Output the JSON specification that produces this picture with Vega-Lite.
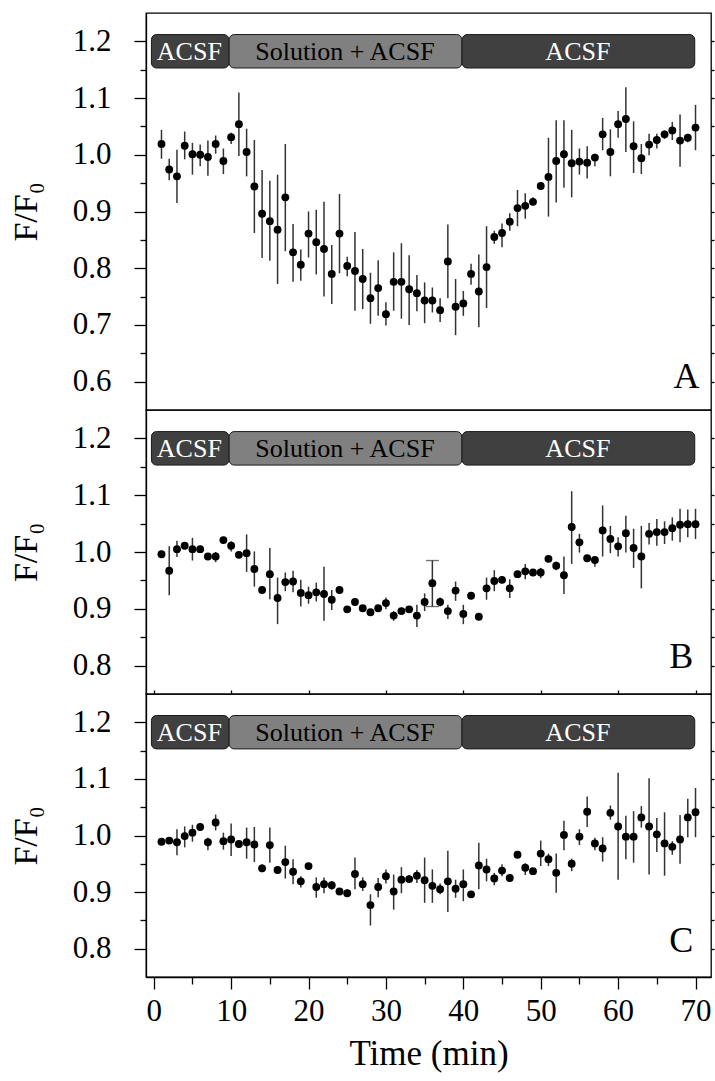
{
  "$schema": "https://vega.github.io/schema/vega-lite/v6.json",
  "background": "white",
  "padding": {"left": 8, "top": 12, "right": 3, "bottom": 5},
  "spacing": 0,
  "bounds": "flush",
  "config": {
    "view": {"stroke": "black", "strokeWidth": 1.3},
    "font": "Times New Roman, Liberation Serif, DejaVu Serif, serif",
    "text": {"font": "Times New Roman, Liberation Serif, DejaVu Serif, serif"},
    "axis": {"grid": false, "domainColor": "black", "tickColor": "black", "labelColor": "black", "titleColor": "black", "labelFont": "Times New Roman, Liberation Serif, DejaVu Serif, serif", "titleFont": "Times New Roman, Liberation Serif, DejaVu Serif, serif", "titleFontWeight": "normal", "domainWidth": 1.3, "tickWidth": 1.3}
  },
  "datasets": {
    "panels": [{"panel": "A"}, {"panel": "B"}, {"panel": "C"}],
    "prot": [
      {"label": "ACSF", "start": -0.3, "end": 9.7, "mid": 4.6},
      {"label": "Solution + ACSF", "start": 9.75, "end": 39.8, "mid": 24.7},
      {"label": "ACSF", "start": 39.85, "end": 69.9, "mid": 54.8}
    ],
    "A": [
      {"t":1,"m":1.019,"lo":0.993,"hi":1.044},{"t":2,"m":0.974,"lo":0.955,"hi":0.993},{"t":3,"m":0.962,"lo":0.915,"hi":1.009},{"t":4,"m":1.016,"lo":0.992,"hi":1.041},{"t":5,"m":1.001,"lo":0.965,"hi":1.021},{"t":6,"m":1.000,"lo":0.980,"hi":1.018},{"t":7,"m":0.996,"lo":0.963,"hi":1.025},{"t":8,"m":1.019,"lo":1.002,"hi":1.034},{"t":9,"m":0.989,"lo":0.966,"hi":1.011},{"t":10,"m":1.031,"lo":1.019,"hi":1.039},
      {"t":11,"m":1.054,"lo":0.998,"hi":1.110},{"t":12,"m":1.005,"lo":0.962,"hi":1.046},{"t":13,"m":0.944,"lo":0.862,"hi":1.026},{"t":14,"m":0.896,"lo":0.818,"hi":0.973},{"t":15,"m":0.883,"lo":0.813,"hi":0.954},{"t":16,"m":0.868,"lo":0.772,"hi":0.965},{"t":17,"m":0.925,"lo":0.830,"hi":1.019},{"t":18,"m":0.828,"lo":0.776,"hi":0.878},{"t":19,"m":0.806,"lo":0.778,"hi":0.833},{"t":20,"m":0.861,"lo":0.819,"hi":0.900},
      {"t":21,"m":0.846,"lo":0.789,"hi":0.903},{"t":22,"m":0.834,"lo":0.750,"hi":0.917},{"t":23,"m":0.790,"lo":0.737,"hi":0.841},{"t":24,"m":0.861,"lo":0.791,"hi":0.931},{"t":25,"m":0.804,"lo":0.786,"hi":0.820},{"t":26,"m":0.795,"lo":0.725,"hi":0.864},{"t":27,"m":0.781,"lo":0.728,"hi":0.834},{"t":28,"m":0.747,"lo":0.702,"hi":0.792},{"t":29,"m":0.765,"lo":0.716,"hi":0.814},{"t":30,"m":0.719,"lo":0.699,"hi":0.740},
      {"t":31,"m":0.776,"lo":0.725,"hi":0.828},{"t":32,"m":0.776,"lo":0.711,"hi":0.844},{"t":33,"m":0.763,"lo":0.700,"hi":0.823},{"t":34,"m":0.756,"lo":0.724,"hi":0.788},{"t":35,"m":0.743,"lo":0.703,"hi":0.775},{"t":36,"m":0.743,"lo":0.722,"hi":0.766},{"t":37,"m":0.726,"lo":0.705,"hi":0.747},{"t":38,"m":0.812,"lo":0.747,"hi":0.877},{"t":39,"m":0.732,"lo":0.682,"hi":0.781},{"t":40,"m":0.738,"lo":0.716,"hi":0.760},
      {"t":41,"m":0.790,"lo":0.771,"hi":0.808},{"t":42,"m":0.759,"lo":0.696,"hi":0.824},{"t":43,"m":0.802,"lo":0.730,"hi":0.874},{"t":44,"m":0.855,"lo":0.843,"hi":0.866},{"t":45,"m":0.862,"lo":0.837,"hi":0.879},{"t":46,"m":0.882,"lo":0.866,"hi":0.897},{"t":47,"m":0.906,"lo":0.874,"hi":0.938},{"t":48,"m":0.910,"lo":0.887,"hi":0.932},{"t":49,"m":0.917,"lo":0.911,"hi":0.925},{"t":50,"m":0.945,"lo":0.940,"hi":0.952},
      {"t":51,"m":0.961,"lo":0.891,"hi":1.030},{"t":52,"m":0.989,"lo":0.916,"hi":1.061},{"t":53,"m":1.001,"lo":0.942,"hi":1.061},{"t":54,"m":0.985,"lo":0.925,"hi":1.044},{"t":55,"m":0.988,"lo":0.965,"hi":1.011},{"t":56,"m":0.986,"lo":0.958,"hi":1.015},{"t":57,"m":0.995,"lo":0.980,"hi":1.002},{"t":58,"m":1.036,"lo":1.008,"hi":1.065},{"t":59,"m":1.005,"lo":0.962,"hi":1.045},{"t":60,"m":1.054,"lo":1.030,"hi":1.077},
      {"t":61,"m":1.063,"lo":1.005,"hi":1.119},{"t":62,"m":1.015,"lo":0.968,"hi":1.059},{"t":63,"m":0.994,"lo":0.966,"hi":1.019},{"t":64,"m":1.018,"lo":0.999,"hi":1.037},{"t":65,"m":1.026,"lo":1.011,"hi":1.037},{"t":66,"m":1.036,"lo":1.028,"hi":1.043},{"t":67,"m":1.043,"lo":1.026,"hi":1.058},{"t":68,"m":1.025,"lo":0.979,"hi":1.071},{"t":69,"m":1.030,"lo":1.022,"hi":1.037},{"t":70,"m":1.048,"lo":1.008,"hi":1.088}
    ],
    "B": [
      {"t":1,"m":0.996,"lo":0.990,"hi":1.002},{"t":2,"m":0.967,"lo":0.924,"hi":1.010},{"t":3,"m":1.005,"lo":0.991,"hi":1.020},{"t":4,"m":1.011,"lo":1.005,"hi":1.017},{"t":5,"m":1.005,"lo":0.985,"hi":1.025},{"t":6,"m":1.005,"lo":0.999,"hi":1.011},{"t":7,"m":0.992,"lo":0.986,"hi":0.998},{"t":8,"m":0.992,"lo":0.982,"hi":1.000},{"t":9,"m":1.021,"lo":1.014,"hi":1.026},{"t":10,"m":1.011,"lo":1.001,"hi":1.019},
      {"t":11,"m":0.995,"lo":0.989,"hi":1.001},{"t":12,"m":0.998,"lo":0.965,"hi":1.031},{"t":13,"m":0.970,"lo":0.939,"hi":1.001},{"t":14,"m":0.933,"lo":0.927,"hi":0.939},{"t":15,"m":0.961,"lo":0.917,"hi":1.007},{"t":16,"m":0.919,"lo":0.873,"hi":0.955},{"t":17,"m":0.947,"lo":0.931,"hi":0.964},{"t":18,"m":0.948,"lo":0.929,"hi":0.967},{"t":19,"m":0.928,"lo":0.904,"hi":0.951},{"t":20,"m":0.924,"lo":0.909,"hi":0.939},
      {"t":21,"m":0.929,"lo":0.913,"hi":0.946},{"t":22,"m":0.926,"lo":0.879,"hi":0.974},{"t":23,"m":0.916,"lo":0.898,"hi":0.933},{"t":24,"m":0.933,"lo":0.927,"hi":0.938},{"t":25,"m":0.899,"lo":0.895,"hi":0.903},{"t":26,"m":0.912,"lo":0.906,"hi":0.918},{"t":27,"m":0.901,"lo":0.897,"hi":0.905},{"t":28,"m":0.894,"lo":0.890,"hi":0.898},{"t":29,"m":0.901,"lo":0.897,"hi":0.906},{"t":30,"m":0.910,"lo":0.899,"hi":0.920},
      {"t":31,"m":0.888,"lo":0.879,"hi":0.896},{"t":32,"m":0.896,"lo":0.890,"hi":0.902},{"t":33,"m":0.899,"lo":0.893,"hi":0.905},{"t":34,"m":0.888,"lo":0.868,"hi":0.907},{"t":35,"m":0.912,"lo":0.896,"hi":0.927},{"t":36,"m":0.945,"lo":0.904,"hi":0.985},{"t":37,"m":0.912,"lo":0.904,"hi":0.920},{"t":38,"m":0.896,"lo":0.882,"hi":0.907},{"t":39,"m":0.932,"lo":0.914,"hi":0.948},{"t":40,"m":0.891,"lo":0.873,"hi":0.907},
      {"t":41,"m":0.923,"lo":0.917,"hi":0.929},{"t":42,"m":0.886,"lo":0.880,"hi":0.892},{"t":43,"m":0.936,"lo":0.916,"hi":0.955},{"t":44,"m":0.949,"lo":0.931,"hi":0.968},{"t":45,"m":0.951,"lo":0.945,"hi":0.957},{"t":46,"m":0.936,"lo":0.919,"hi":0.952},{"t":47,"m":0.961,"lo":0.955,"hi":0.967},{"t":48,"m":0.966,"lo":0.952,"hi":0.979},{"t":49,"m":0.964,"lo":0.959,"hi":0.969},{"t":50,"m":0.964,"lo":0.954,"hi":0.972},
      {"t":51,"m":0.988,"lo":0.982,"hi":0.994},{"t":52,"m":0.976,"lo":0.968,"hi":0.983},{"t":53,"m":0.959,"lo":0.926,"hi":0.992},{"t":54,"m":1.044,"lo":0.979,"hi":1.107},{"t":55,"m":1.017,"lo":0.999,"hi":1.032},{"t":56,"m":0.989,"lo":0.983,"hi":0.995},{"t":57,"m":0.986,"lo":0.974,"hi":0.992},{"t":58,"m":1.038,"lo":0.992,"hi":1.082},{"t":59,"m":1.023,"lo":0.998,"hi":1.046},{"t":60,"m":1.010,"lo":0.992,"hi":1.026},
      {"t":61,"m":1.033,"lo":0.999,"hi":1.064},{"t":62,"m":1.007,"lo":0.972,"hi":1.041},{"t":63,"m":0.992,"lo":0.936,"hi":1.046},{"t":64,"m":1.032,"lo":1.013,"hi":1.051},{"t":65,"m":1.035,"lo":1.011,"hi":1.058},{"t":66,"m":1.035,"lo":1.014,"hi":1.054},{"t":67,"m":1.042,"lo":1.020,"hi":1.061},{"t":68,"m":1.048,"lo":1.017,"hi":1.076},{"t":69,"m":1.049,"lo":1.026,"hi":1.075},{"t":70,"m":1.049,"lo":1.023,"hi":1.076}
    ],
    "C": [
      {"t":1,"m":0.989,"lo":0.985,"hi":0.993},{"t":2,"m":0.991,"lo":0.987,"hi":0.995},{"t":3,"m":0.988,"lo":0.965,"hi":1.011},{"t":4,"m":0.999,"lo":0.979,"hi":1.016},{"t":5,"m":1.005,"lo":0.989,"hi":1.019},{"t":6,"m":1.015,"lo":1.008,"hi":1.022},{"t":7,"m":0.988,"lo":0.974,"hi":0.996},{"t":8,"m":1.023,"lo":1.009,"hi":1.037},{"t":9,"m":0.990,"lo":0.975,"hi":1.005},{"t":10,"m":0.993,"lo":0.964,"hi":1.021},
      {"t":11,"m":0.985,"lo":0.979,"hi":0.991},{"t":12,"m":0.988,"lo":0.959,"hi":1.014},{"t":13,"m":0.984,"lo":0.953,"hi":1.015},{"t":14,"m":0.942,"lo":0.935,"hi":0.949},{"t":15,"m":0.983,"lo":0.952,"hi":1.014},{"t":16,"m":0.939,"lo":0.932,"hi":0.945},{"t":17,"m":0.953,"lo":0.924,"hi":0.982},{"t":18,"m":0.936,"lo":0.914,"hi":0.958},{"t":19,"m":0.919,"lo":0.908,"hi":0.928},{"t":20,"m":0.946,"lo":0.940,"hi":0.952},
      {"t":21,"m":0.909,"lo":0.890,"hi":0.926},{"t":22,"m":0.914,"lo":0.898,"hi":0.926},{"t":23,"m":0.912,"lo":0.904,"hi":0.919},{"t":24,"m":0.901,"lo":0.895,"hi":0.907},{"t":25,"m":0.898,"lo":0.893,"hi":0.904},{"t":26,"m":0.932,"lo":0.905,"hi":0.961},{"t":27,"m":0.914,"lo":0.902,"hi":0.926},{"t":28,"m":0.877,"lo":0.841,"hi":0.896},{"t":29,"m":0.909,"lo":0.891,"hi":0.925},{"t":30,"m":0.928,"lo":0.915,"hi":0.940},
      {"t":31,"m":0.901,"lo":0.869,"hi":0.931},{"t":32,"m":0.922,"lo":0.898,"hi":0.944},{"t":33,"m":0.923,"lo":0.916,"hi":0.930},{"t":34,"m":0.929,"lo":0.916,"hi":0.939},{"t":35,"m":0.921,"lo":0.881,"hi":0.961},{"t":36,"m":0.911,"lo":0.881,"hi":0.940},{"t":37,"m":0.905,"lo":0.896,"hi":0.915},{"t":38,"m":0.919,"lo":0.865,"hi":0.973},{"t":39,"m":0.906,"lo":0.890,"hi":0.922},{"t":40,"m":0.914,"lo":0.884,"hi":0.940},
      {"t":41,"m":0.896,"lo":0.890,"hi":0.902},{"t":42,"m":0.947,"lo":0.905,"hi":0.987},{"t":43,"m":0.940,"lo":0.919,"hi":0.959},{"t":44,"m":0.924,"lo":0.912,"hi":0.934},{"t":45,"m":0.938,"lo":0.928,"hi":0.949},{"t":46,"m":0.925,"lo":0.918,"hi":0.932},{"t":47,"m":0.966,"lo":0.960,"hi":0.972},{"t":48,"m":0.943,"lo":0.930,"hi":0.951},{"t":49,"m":0.937,"lo":0.931,"hi":0.943},{"t":50,"m":0.968,"lo":0.946,"hi":0.991},
      {"t":51,"m":0.958,"lo":0.946,"hi":0.968},{"t":52,"m":0.934,"lo":0.899,"hi":0.968},{"t":53,"m":1.001,"lo":0.974,"hi":1.026},{"t":54,"m":0.950,"lo":0.937,"hi":0.959},{"t":55,"m":0.998,"lo":0.983,"hi":1.011},{"t":56,"m":1.042,"lo":1.015,"hi":1.069},{"t":57,"m":0.986,"lo":0.974,"hi":0.996},{"t":58,"m":0.977,"lo":0.954,"hi":0.997},{"t":59,"m":1.040,"lo":1.028,"hi":1.053},{"t":60,"m":1.016,"lo":0.922,"hi":1.111},
      {"t":61,"m":0.998,"lo":0.958,"hi":1.035},{"t":62,"m":0.998,"lo":0.952,"hi":1.043},{"t":63,"m":1.032,"lo":1.014,"hi":1.052},{"t":64,"m":1.016,"lo":0.931,"hi":1.101},{"t":65,"m":1.002,"lo":0.971,"hi":1.031},{"t":66,"m":0.986,"lo":0.929,"hi":1.041},{"t":67,"m":0.980,"lo":0.966,"hi":0.990},{"t":68,"m":0.993,"lo":0.950,"hi":1.036},{"t":69,"m":1.032,"lo":0.997,"hi":1.065},{"t":70,"m":1.041,"lo":0.997,"hi":1.084}
    ]
  },
  "vconcat": [
    {
      "width": 565, "height": 397,
      "resolve": {"axis": {"y": "independent", "x": "independent"}},
      "layer": [
        {"data": {"name": "prot"}, "mark": {"type": "rect", "cornerRadius": 5, "stroke": "#1a1a1a", "strokeWidth": 1},
         "encoding": {"x": {"field": "start", "type": "quantitative", "scale": {"domain": [-1, 72], "nice": false}, "axis": null}, "x2": {"field": "end"},
                      "y": {"datum": 1.153, "type": "quantitative", "scale": {"domain": [0.55, 1.25], "nice": false, "zero": false}, "axis": null}, "y2": {"datum": 1.212},
                      "color": {"field": "label", "type": "nominal", "scale": {"domain": ["ACSF", "Solution + ACSF"], "range": ["#404040", "#808080"]}, "legend": null}}},
        {"data": {"name": "prot"}, "mark": {"type": "text", "fontSize": 26, "baseline": "middle", "dy": 1},
         "encoding": {"x": {"field": "mid", "type": "quantitative", "axis": null}, "y": {"datum": 1.1825, "type": "quantitative", "axis": null}, "text": {"field": "label"},
                      "color": {"condition": {"test": "datum.label == 'ACSF'", "value": "white"}, "value": "black"}}},
        {"data": {"name": "A"}, "mark": {"type": "rule", "color": "#333", "strokeWidth": 1.5},
         "encoding": {"x": {"field": "t", "type": "quantitative", "axis": null}, "y": {"field": "lo", "type": "quantitative",
           "axis": {"orient": "right", "values": [0.6,0.65,0.7,0.75,0.8,0.85,0.9,0.95,1.0,1.05,1.1,1.15,1.2], "labels": false, "domain": false, "tickSize": 3, "title": null}}, "y2": {"field": "hi"}}},
        {"data": {"name": "A"}, "mark": {"type": "circle", "size": 62, "color": "black", "opacity": 1},
         "encoding": {"x": {"field": "t", "type": "quantitative", "axis": null},
           "y": {"field": "m", "type": "quantitative", "axis": {"orient": "left", "values": [0.6,0.65,0.7,0.75,0.8,0.85,0.9,0.95,1.0,1.05,1.1,1.15,1.2],
             "labelExpr": "round(datum.value*100)%10==0 ? format(datum.value,'.1f') : ''",
             "tickSize": {"condition": {"test": "round(datum.value*100)%10==0", "value": 12}, "value": 6},
             "labelFontSize": 31, "labelPadding": 23, "title": "F/F₀", "titleFontSize": 34, "titlePadding": 29}}}},
        {"data": {"name": "panels"}, "transform": [{"filter": "datum.panel == 'A'"}],
         "mark": {"type": "text", "fontSize": 36, "align": "right", "baseline": "alphabetic", "color": "black"},
         "encoding": {"x": {"datum": 70.5, "type": "quantitative", "axis": null}, "y": {"datum": 0.589, "type": "quantitative", "axis": null}, "text": {"field": "panel"}}}
      ]
    },
    {
      "width": 565, "height": 284,
      "resolve": {"axis": {"y": "independent", "x": "independent"}},
      "layer": [
        {"data": {"name": "prot"}, "mark": {"type": "rect", "cornerRadius": 5, "stroke": "#1a1a1a", "strokeWidth": 1},
         "encoding": {"x": {"field": "start", "type": "quantitative", "scale": {"domain": [-1, 72], "nice": false}, "axis": null}, "x2": {"field": "end"},
                      "y": {"datum": 1.153, "type": "quantitative", "scale": {"domain": [0.75, 1.25], "nice": false, "zero": false}, "axis": null}, "y2": {"datum": 1.212},
                      "color": {"field": "label", "type": "nominal", "scale": {"domain": ["ACSF", "Solution + ACSF"], "range": ["#404040", "#808080"]}, "legend": null}}},
        {"data": {"name": "prot"}, "mark": {"type": "text", "fontSize": 26, "baseline": "middle", "dy": 1},
         "encoding": {"x": {"field": "mid", "type": "quantitative", "axis": null}, "y": {"datum": 1.1825, "type": "quantitative", "axis": null}, "text": {"field": "label"},
                      "color": {"condition": {"test": "datum.label == 'ACSF'", "value": "white"}, "value": "black"}}},
        {"data": {"name": "B"}, "mark": {"type": "rule", "color": "#333", "strokeWidth": 1.5},
         "encoding": {"x": {"field": "t", "type": "quantitative", "axis": null}, "y": {"field": "lo", "type": "quantitative",
           "axis": {"orient": "right", "values": [0.8,0.85,0.9,0.95,1.0,1.05,1.1,1.15,1.2], "labels": false, "domain": false, "tickSize": 3, "title": null}}, "y2": {"field": "hi"}}},
        {"data": {"name": "B"}, "transform": [{"filter": "datum.t == 36"}], "mark": {"type": "tick", "orient": "horizontal", "size": 13, "thickness": 1.3, "color": "#333"},
         "encoding": {"x": {"field": "t", "type": "quantitative", "axis": null}, "y": {"field": "hi", "type": "quantitative", "axis": null}}},
        {"data": {"name": "B"}, "transform": [{"filter": "datum.t == 36"}], "mark": {"type": "tick", "orient": "horizontal", "size": 13, "thickness": 1.3, "color": "#333"},
         "encoding": {"x": {"field": "t", "type": "quantitative", "axis": null}, "y": {"field": "lo", "type": "quantitative", "axis": null}}},
        {"data": {"name": "B"}, "mark": {"type": "circle", "size": 62, "color": "black", "opacity": 1},
         "encoding": {"x": {"field": "t", "type": "quantitative", "axis": null},
           "y": {"field": "m", "type": "quantitative", "axis": {"orient": "left", "values": [0.8,0.85,0.9,0.95,1.0,1.05,1.1,1.15,1.2],
             "labelExpr": "round(datum.value*100)%10==0 ? format(datum.value,'.1f') : ''",
             "tickSize": {"condition": {"test": "round(datum.value*100)%10==0", "value": 12}, "value": 6},
             "labelFontSize": 31, "labelPadding": 23, "title": "F/F₀", "titleFontSize": 34, "titlePadding": 29}}}},
        {"data": {"name": "panels"}, "transform": [{"filter": "datum.panel == 'B'"}],
         "mark": {"type": "text", "fontSize": 36, "align": "right", "baseline": "alphabetic", "color": "black"},
         "encoding": {"x": {"datum": 69.7, "type": "quantitative", "axis": null}, "y": {"datum": 0.795, "type": "quantitative", "axis": null}, "text": {"field": "panel"}}}
      ]
    },
    {
      "width": 565, "height": 283,
      "resolve": {"axis": {"y": "independent", "x": "independent"}},
      "layer": [
        {"data": {"name": "prot"}, "mark": {"type": "rect", "cornerRadius": 5, "stroke": "#1a1a1a", "strokeWidth": 1},
         "encoding": {"x": {"field": "start", "type": "quantitative", "scale": {"domain": [-1, 72], "nice": false}, "axis": null}, "x2": {"field": "end"},
                      "y": {"datum": 1.153, "type": "quantitative", "scale": {"domain": [0.75, 1.25], "nice": false, "zero": false}, "axis": null}, "y2": {"datum": 1.212},
                      "color": {"field": "label", "type": "nominal", "scale": {"domain": ["ACSF", "Solution + ACSF"], "range": ["#404040", "#808080"]}, "legend": null}}},
        {"data": {"name": "prot"}, "mark": {"type": "text", "fontSize": 26, "baseline": "middle", "dy": 1},
         "encoding": {"x": {"field": "mid", "type": "quantitative", "axis": null}, "y": {"datum": 1.1825, "type": "quantitative", "axis": null}, "text": {"field": "label"},
                      "color": {"condition": {"test": "datum.label == 'ACSF'", "value": "white"}, "value": "black"}}},
        {"data": {"name": "C"}, "mark": {"type": "rule", "color": "#333", "strokeWidth": 1.5},
         "encoding": {"x": {"field": "t", "type": "quantitative", "axis": {"orient": "top", "values": [0,10,20,30,40,50,60,70], "labels": false, "domain": false, "tickSize": 4, "title": null}},
           "y": {"field": "lo", "type": "quantitative",
           "axis": {"orient": "right", "values": [0.8,0.85,0.9,0.95,1.0,1.05,1.1,1.15,1.2], "labels": false, "domain": false, "tickSize": 3, "title": null}}, "y2": {"field": "hi"}}},
        {"data": {"name": "C"}, "mark": {"type": "circle", "size": 62, "color": "black", "opacity": 1},
         "encoding": {"x": {"field": "t", "type": "quantitative", "axis": {"orient": "bottom", "values": [0,5,10,15,20,25,30,35,40,45,50,55,60,65,70],
             "labelExpr": "datum.value%10==0 ? format(datum.value,'d') : ''",
             "tickSize": {"condition": {"test": "datum.value%10==0", "value": 12}, "value": 7},
             "labelFontSize": 31, "labelPadding": 7, "title": "Time (min)", "titleFontSize": 35, "titlePadding": 10}},
           "y": {"field": "m", "type": "quantitative", "axis": {"orient": "left", "values": [0.8,0.85,0.9,0.95,1.0,1.05,1.1,1.15,1.2],
             "labelExpr": "round(datum.value*100)%10==0 ? format(datum.value,'.1f') : ''",
             "tickSize": {"condition": {"test": "round(datum.value*100)%10==0", "value": 12}, "value": 6},
             "labelFontSize": 31, "labelPadding": 23, "title": "F/F₀", "titleFontSize": 34, "titlePadding": 29}}}},
        {"data": {"name": "panels"}, "transform": [{"filter": "datum.panel == 'C'"}],
         "mark": {"type": "text", "fontSize": 36, "align": "right", "baseline": "alphabetic", "color": "black"},
         "encoding": {"x": {"datum": 69.7, "type": "quantitative", "axis": null}, "y": {"datum": 0.794, "type": "quantitative", "axis": null}, "text": {"field": "panel"}}}
      ]
    }
  ]
}
